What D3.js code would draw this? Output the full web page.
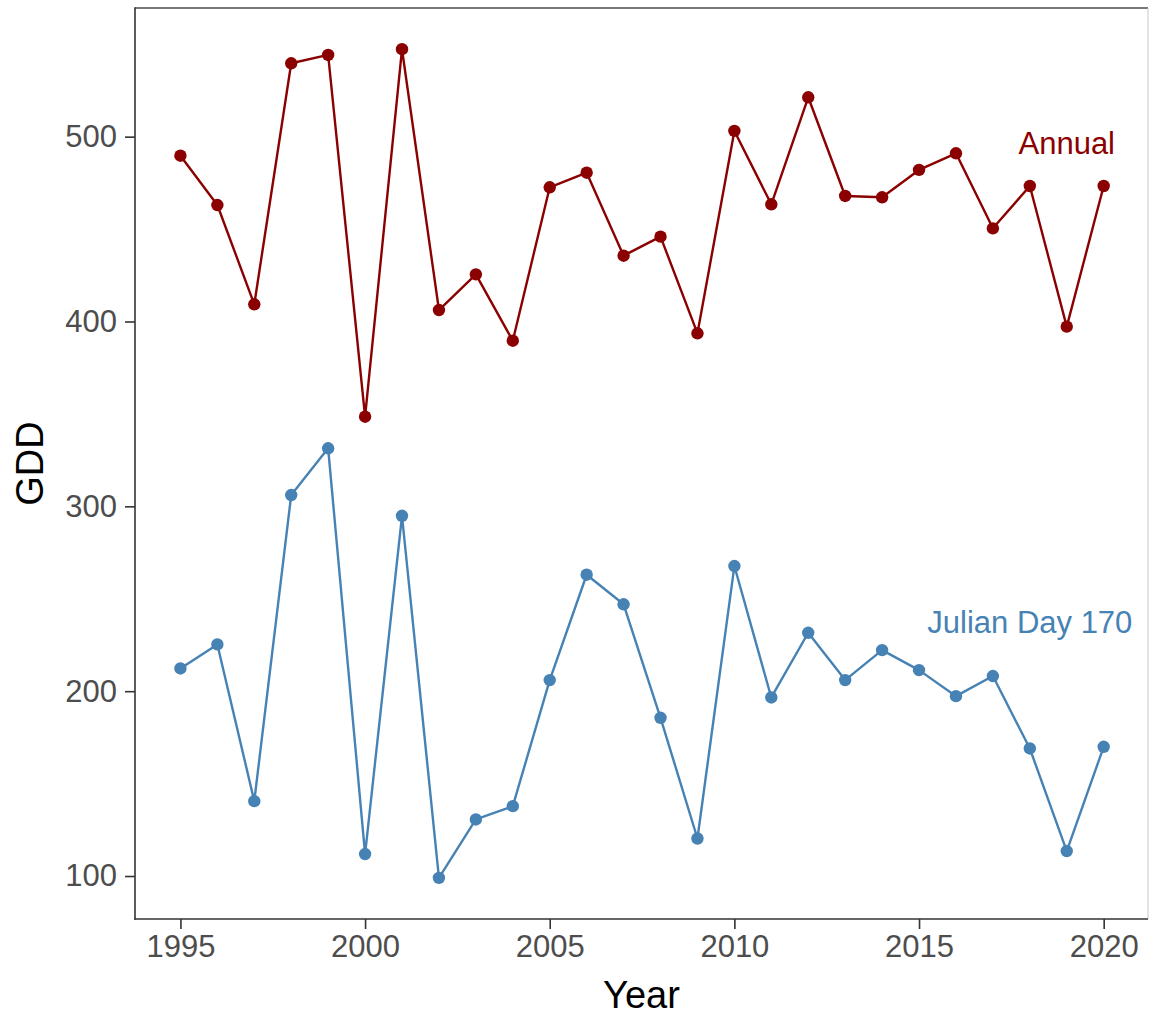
<!DOCTYPE html>
<html>
<head>
<meta charset="utf-8">
<script src="https://cdn.jsdelivr.net/npm/d3@7"></script>
<style>
  html, body { margin: 0; padding: 0; background: #fff; }
  svg text { font-family: "Liberation Sans", Arial, sans-serif; }
</style>
</head>
<body>
<svg id="chart" width="1150" height="1017"></svg>
<script>
const years = [1995,1996,1997,1998,1999,2000,2001,2002,2003,2004,2005,2006,2007,2008,2009,2010,2011,2012,2013,2014,2015,2016,2017,2018,2019,2020];
const annual = [489.7,463,409.3,539.7,544.2,348.5,547.3,406.2,425.5,389.6,472.6,480.5,435.6,445.9,393.6,503.1,463.4,521.3,467.9,467.2,482,491,450.4,473.3,397.2,473.3];
const julian170 = [212.3,225.3,140.5,306.1,331.4,111.9,294.9,99,130.6,137.8,206,263,247,185.6,120.3,267.7,196.6,231.6,206,222.2,211.4,197.3,208.2,169,113.5,169.9];
const xTicks = [1995,2000,2005,2010,2015,2020];
const yTicks = [100,200,300,400,500];
const seriesNames = ["Annual","Julian Day 170"];
const seriesColors = ["#8B0000","#4682B4"];
const labelPos = [{year: 2019, value: 496.5}, {year: 2018, value: 237}];

(function () {
const svg = d3.select("#chart");
const pL = 135, pR = 1148, pT = 8, pB = 919;

const x = d3.scaleLinear().domain([1993.77, 2021.2]).range([pL, pR]);
const y = d3.scaleLinear().domain([76.75, 569.6]).range([pB, pT]);

// panel border (top/right)
svg.append("line").attr("x1", pL).attr("x2", pR).attr("y1", pT).attr("y2", pT)
  .attr("stroke", "#4d4d4d").attr("stroke-width", 1.5);
svg.append("line").attr("x1", pR).attr("x2", pR).attr("y1", pT).attr("y2", pB)
  .attr("stroke", "#c8c8c8").attr("stroke-width", 1);

const series = [annual, julian170];
const line = d3.line().x((d, i) => x(years[i])).y(d => y(d));

series.forEach((vals, k) => {
  svg.append("path").datum(vals)
    .attr("d", line)
    .attr("fill", "none")
    .attr("stroke", seriesColors[k])
    .attr("stroke-width", 2.4)
    .attr("stroke-linejoin", "round");
  svg.append("g").selectAll("circle").data(vals).join("circle")
    .attr("cx", (d, i) => x(years[i]))
    .attr("cy", d => y(d))
    .attr("r", 6.2)
    .attr("fill", seriesColors[k]);
  svg.append("text")
    .attr("x", x(labelPos[k].year))
    .attr("y", y(labelPos[k].value))
    .attr("text-anchor", "middle")
    .attr("dominant-baseline", "central")
    .attr("font-size", 31)
    .attr("fill", seriesColors[k])
    .text(seriesNames[k]);
});

// axes
const xAxis = d3.axisBottom(x).tickValues(xTicks).tickFormat(d3.format("d")).tickSize(10).tickPadding(6);
const gx = svg.append("g").attr("transform", `translate(0,${pB})`).call(xAxis);
gx.select(".domain").remove();
gx.selectAll(".tick line").attr("stroke", "#333").attr("stroke-width", 1.6);
gx.selectAll(".tick text").attr("font-size", 31).attr("fill", "#4d4d4d")
  .attr("font-family", "Liberation Sans, Arial, sans-serif");

const yAxis = d3.axisLeft(y).tickValues(yTicks).tickSize(10).tickPadding(8);
const gy = svg.append("g").attr("transform", `translate(${pL},0)`).call(yAxis);
gy.select(".domain").remove();
gy.selectAll(".tick line").attr("stroke", "#333").attr("stroke-width", 1.6);
gy.selectAll(".tick text").attr("font-size", 31).attr("fill", "#4d4d4d")
  .attr("font-family", "Liberation Sans, Arial, sans-serif");

// axis lines
svg.append("line").attr("x1", pL).attr("x2", pL).attr("y1", pT - 0.75).attr("y2", pB + 0.8)
  .attr("stroke", "#333").attr("stroke-width", 1.6);
svg.append("line").attr("x1", pL - 0.8).attr("x2", pR).attr("y1", pB).attr("y2", pB)
  .attr("stroke", "#333").attr("stroke-width", 1.6);

// titles
svg.append("text").attr("x", (pL + pR) / 2).attr("y", 1008)
  .attr("text-anchor", "middle").attr("font-size", 38).attr("fill", "#000").text("Year");
svg.append("text").attr("transform", `translate(43,${(pT + pB) / 2}) rotate(-90)`)
  .attr("text-anchor", "middle").attr("font-size", 38).attr("fill", "#000").text("GDD");
})();
</script>
</body>
</html>
